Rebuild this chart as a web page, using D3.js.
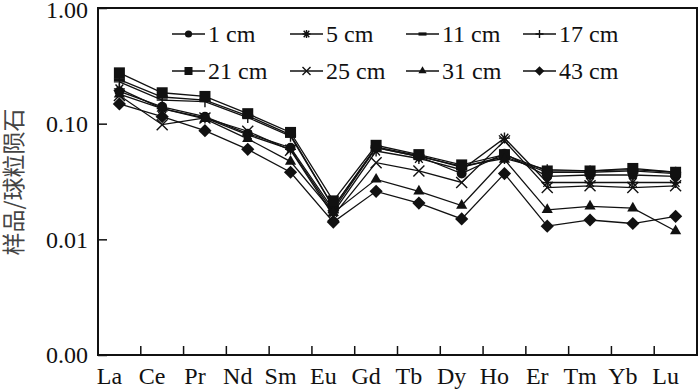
<!DOCTYPE html>
<html>
<head>
<meta charset="utf-8">
<script src="https://cdn.jsdelivr.net/npm/d3@7"></script>
<style>
  body { margin: 0; background: #fff; }
  svg { display: block; }
</style>
</head>
<body>
<div id="chart"></div>
<script>
// REE elements on the x axis
const elements = ["La", "Ce", "Pr", "Nd", "Sm", "Eu", "Gd", "Tb", "Dy", "Ho", "Er", "Tm", "Yb", "Lu"]

// sample / chondrite, one array per depth
const cm1  = [0.19, 0.14, 0.115, 0.082, 0.062, 0.018, 0.062, 0.052, 0.037, 0.055, 0.035, 0.036, 0.036, 0.035]
const cm5  = [0.20, 0.135, 0.112, 0.080, 0.060, 0.017, 0.058, 0.050, 0.040, 0.075, 0.031, 0.031, 0.031, 0.031]
const cm11 = [0.24, 0.17, 0.16, 0.117, 0.080, 0.019, 0.063, 0.053, 0.042, 0.052, 0.038, 0.038, 0.039, 0.037]
const cm17 = [0.23, 0.16, 0.155, 0.113, 0.078, 0.019, 0.062, 0.052, 0.043, 0.050, 0.040, 0.039, 0.040, 0.038]
const cm21 = [0.275, 0.185, 0.172, 0.122, 0.084, 0.0215, 0.065, 0.054, 0.044, 0.054, 0.039, 0.039, 0.041, 0.038]
const cm25 = [0.175, 0.098, 0.112, 0.086, 0.059, 0.016, 0.046, 0.039, 0.031, 0.071, 0.028, 0.029, 0.028, 0.029]
const cm31 = [0.18, 0.135, 0.11, 0.074, 0.047, 0.017, 0.033, 0.026, 0.0196, 0.049, 0.018, 0.0193, 0.0186, 0.0118]
const cm43 = [0.148, 0.115, 0.087, 0.060, 0.038, 0.0141, 0.026, 0.0206, 0.015, 0.037, 0.013, 0.0147, 0.0137, 0.0158]

const yTicks = [0.001, 0.01, 0.1, 1]

const series = [
   { name: "1 cm", values: cm1, marker: "circle" },
   { name: "5 cm", values: cm5, marker: "star" },
   { name: "11 cm", values: cm11, marker: "dash" },
   { name: "17 cm", values: cm17, marker: "plus" },
   { name: "21 cm", values: cm21, marker: "square" },
   { name: "25 cm", values: cm25, marker: "cross" },
   { name: "31 cm", values: cm31, marker: "triangle" },
   { name: "43 cm", values: cm43, marker: "diamond" }
]

const serif = "'Liberation Serif', 'Times New Roman', 'DejaVu Serif', serif"

let margin = { top: 8, right: 3, bottom: 34, left: 98 }
let width = 700 - margin.left - margin.right
let height = 389 - margin.top - margin.bottom

let svg = d3.select("#chart").append("svg")
   .attr("width", 700)
   .attr("height", 389)

let g = svg.append("g")
   .attr("transform", "translate(" + margin.left + "," + margin.top + ")")

let x = d3.scaleBand()
   .domain(elements)
   .range([0, width])

let y = d3.scaleLog()
   .domain([0.001, 1])
   .range([height, 0])

// frame
g.append("rect")
   .attr("width", width)
   .attr("height", height)
   .attr("fill", "none")
   .attr("stroke", "#111")
   .attr("stroke-width", 2)

// x axis: ticks sit on band boundaries, pointing up
let xAxis = g.append("g")
   .attr("transform", "translate(0," + height + ")")
   .call(d3.axisBottom(x).tickSize(0).tickPadding(12))

xAxis.select(".domain").remove()
xAxis.selectAll("text")
   .attr("dx", -10)
   .style("font-family", serif)
   .style("font-size", "24px")
   .attr("fill", "#111")

g.selectAll("line.xtick").data(elements.slice(1))
   .join("line")
   .attr("class", "xtick")
   .attr("x1", d => x(d))
   .attr("x2", d => x(d))
   .attr("y1", height)
   .attr("y2", height - 9)
   .attr("stroke", "#111")
   .attr("stroke-width", 1.5)

// y axis: ticks inside
let yAxis = g.append("g")
   .call(d3.axisLeft(y).tickValues(yTicks).tickFormat(d3.format(".2f")).tickSize(-9).tickPadding(10))

yAxis.select(".domain").remove()
yAxis.selectAll("line").attr("stroke", "#111").attr("stroke-width", 1.5)
yAxis.selectAll("text")
   .style("font-family", serif)
   .style("font-size", "24px")
   .attr("fill", "#111")

// keep the top label inside the picture
yAxis.selectAll("g.tick").filter(d => d === 1).select("text").attr("y", 2)

// y title
svg.append("text")
   .attr("transform", "translate(22,182) rotate(-90)")
   .attr("text-anchor", "middle")
   .style("font-family", "'Noto Sans CJK SC', sans-serif")
   .style("font-size", "23px")
   .style("fill", "#444")
   .text("样品/球粒陨石")

function drawMarker(sel, type, s) {
   if (type === "circle") {
      sel.append("circle").attr("r", s * 0.45).attr("fill", "#111")
   } else if (type === "square") {
      sel.append("rect").attr("x", -s / 2).attr("y", -s / 2).attr("width", s).attr("height", s).attr("fill", "#111")
   } else if (type === "triangle") {
      sel.append("path").attr("d", d3.symbol(d3.symbolTriangle, s * s * 0.45)).attr("fill", "#111")
   } else if (type === "diamond") {
      let h = s * 0.6
      sel.append("path").attr("d", "M0," + (-h) + "L" + h + ",0L0," + h + "L" + (-h) + ",0Z").attr("fill", "#111")
   } else if (type === "dash") {
      sel.append("rect").attr("x", -s / 2).attr("y", -1.6).attr("width", s).attr("height", 3.2).attr("fill", "#111")
   } else if (type === "plus") {
      let h = s / 2
      sel.append("path").attr("d", "M" + (-h) + ",0H" + h + "M0," + (-h) + "V" + h).attr("stroke", "#111").attr("stroke-width", 1.4)
   } else if (type === "cross") {
      let h = s / 2
      sel.append("path").attr("d", "M" + (-h) + "," + (-h) + "L" + h + "," + h + "M" + (-h) + "," + h + "L" + h + "," + (-h)).attr("stroke", "#111").attr("stroke-width", 1.4)
   } else if (type === "star") {
      let h = s / 2
      sel.append("path").attr("d", "M" + (-h) + ",0H" + h + "M" + (-h * 0.7) + "," + (-h * 0.8) + "L" + (h * 0.7) + "," + (h * 0.8) + "M" + (-h * 0.7) + "," + (h * 0.8) + "L" + (h * 0.7) + "," + (-h * 0.8) + "M0," + (-h) + "V" + h)
         .attr("stroke", "#111").attr("stroke-width", 1.4)
   }
}

let line = d3.line()
   .x((d, i) => x(elements[i]) + x.bandwidth() / 2)
   .y(d => y(d))

let seriesG = g.selectAll("g.series").data(series)
   .join("g")
   .attr("class", "series")

seriesG.append("path")
   .attr("d", d => line(d.values))
   .attr("fill", "none")
   .attr("stroke", "#111")
   .attr("stroke-width", 1.3)

seriesG.each(function (d) {
   let thisG = d3.select(this)
   d.values.forEach(function (v, i) {
      let m = thisG.append("g")
         .attr("transform", "translate(" + (x(elements[i]) + x.bandwidth() / 2) + "," + y(v) + ")")
      drawMarker(m, d.marker, 11)
   })
})

// legend, two rows of four
let legendCols = [172, 290, 406, 523]
let legendRows = [34, 71]

let legendG = svg.selectAll("g.legend").data(series)
   .join("g")
   .attr("class", "legend")
   .attr("transform", (d, i) => "translate(" + legendCols[i % 4] + "," + legendRows[Math.floor(i / 4)] + ")")

legendG.append("line")
   .attr("x1", 0)
   .attr("x2", 33)
   .attr("stroke", "#111")
   .attr("stroke-width", 1.3)

legendG.each(function (d) {
   let m = d3.select(this).append("g").attr("transform", "translate(16.5,0)")
   drawMarker(m, d.marker, 8)
})

legendG.append("text")
   .attr("x", 36)
   .attr("y", 8)
   .style("font-family", serif)
   .style("font-size", "24px")
   .style("fill", "#111")
   .text(d => d.name)
</script>
</body>
</html>
